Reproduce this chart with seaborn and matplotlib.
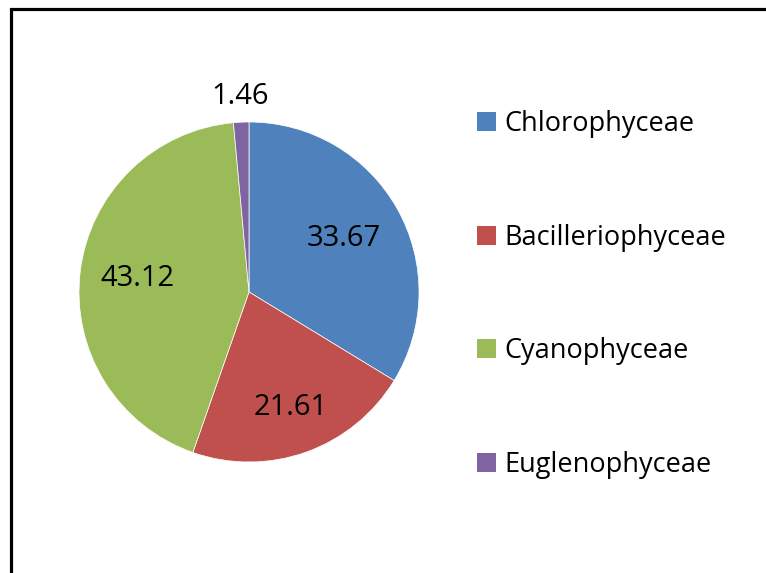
#!/usr/bin/env python3
"""
Pie chart of algal class composition (%).
"""

import numpy as np
import matplotlib
matplotlib.use("Agg")
import matplotlib.pyplot as plt
from matplotlib.patches import Patch
from matplotlib.lines import Line2D
import seaborn as sns

# data
classes = ["Chlorophyceae", "Bacilleriophyceae", "Cyanophyceae", "Euglenophyceae"]
shares = [33.67, 21.61, 43.12, 1.46]
share_labels = ["33.67", "21.61", "43.12", "1.46"]
colors = ["#4F81BD", "#C0504D", "#9BBB59", "#8064A2"]

# distance of each value label from the centre (fraction of radius)
label_radius = [0.64, 0.72, 0.66, 1.15]

sns.set_theme(style="white")
plt.rcParams["font.family"] = ["Open Sans", "DejaVu Sans"]
plt.rcParams["text.color"] = "black"

W, H = 766, 573
fig = plt.figure(figsize=(W / 100, H / 100), dpi=100)
fig.patch.set_facecolor("white")

# pie axes: centre (249, 292) px, radius 170 px
cx, cy, r = 249, 292, 170
ax = fig.add_axes([(cx - r) / W, (H - cy - r) / H, 2 * r / W, 2 * r / H])

wedges, _ = ax.pie(
    shares,
    colors=sns.color_palette(colors),
    startangle=90,
    counterclock=False,
    wedgeprops={"linewidth": 0.5, "edgecolor": "white"},
)
ax.set_xlim(-1, 1)
ax.set_ylim(-1, 1)
ax.set_aspect("equal")
ax.axis("off")

for w, txt, rad in zip(wedges, share_labels, label_radius):
    mid = np.deg2rad((w.theta1 + w.theta2) / 2)
    ax.text(rad * np.cos(mid), rad * np.sin(mid), txt,
            ha="center", va="center", fontsize=21, color="black")

# legend
handles = [Patch(facecolor=c, edgecolor="none") for c in colors]
leg = fig.legend(
    handles, classes,
    loc="upper left",
    bbox_to_anchor=(477 / W, 1 - 110 / H),
    frameon=False,
    fontsize=19.5,
    handlelength=0.7,
    handleheight=0.7,
    handletextpad=0.3,
    labelspacing=3.16,
    borderpad=0,
    borderaxespad=0,
)
for t in leg.get_texts():
    t.set_color("black")

# partial chart frame (top and left edges)
fig.add_artist(Line2D([11 / W, 11 / W, 1.0], [0.0, 1 - 9 / H, 1 - 9 / H],
                      transform=fig.transFigure, color="black", linewidth=2.3,
                      solid_joinstyle="miter"))

plt.savefig("out.png", dpi=100)
plt.close()
